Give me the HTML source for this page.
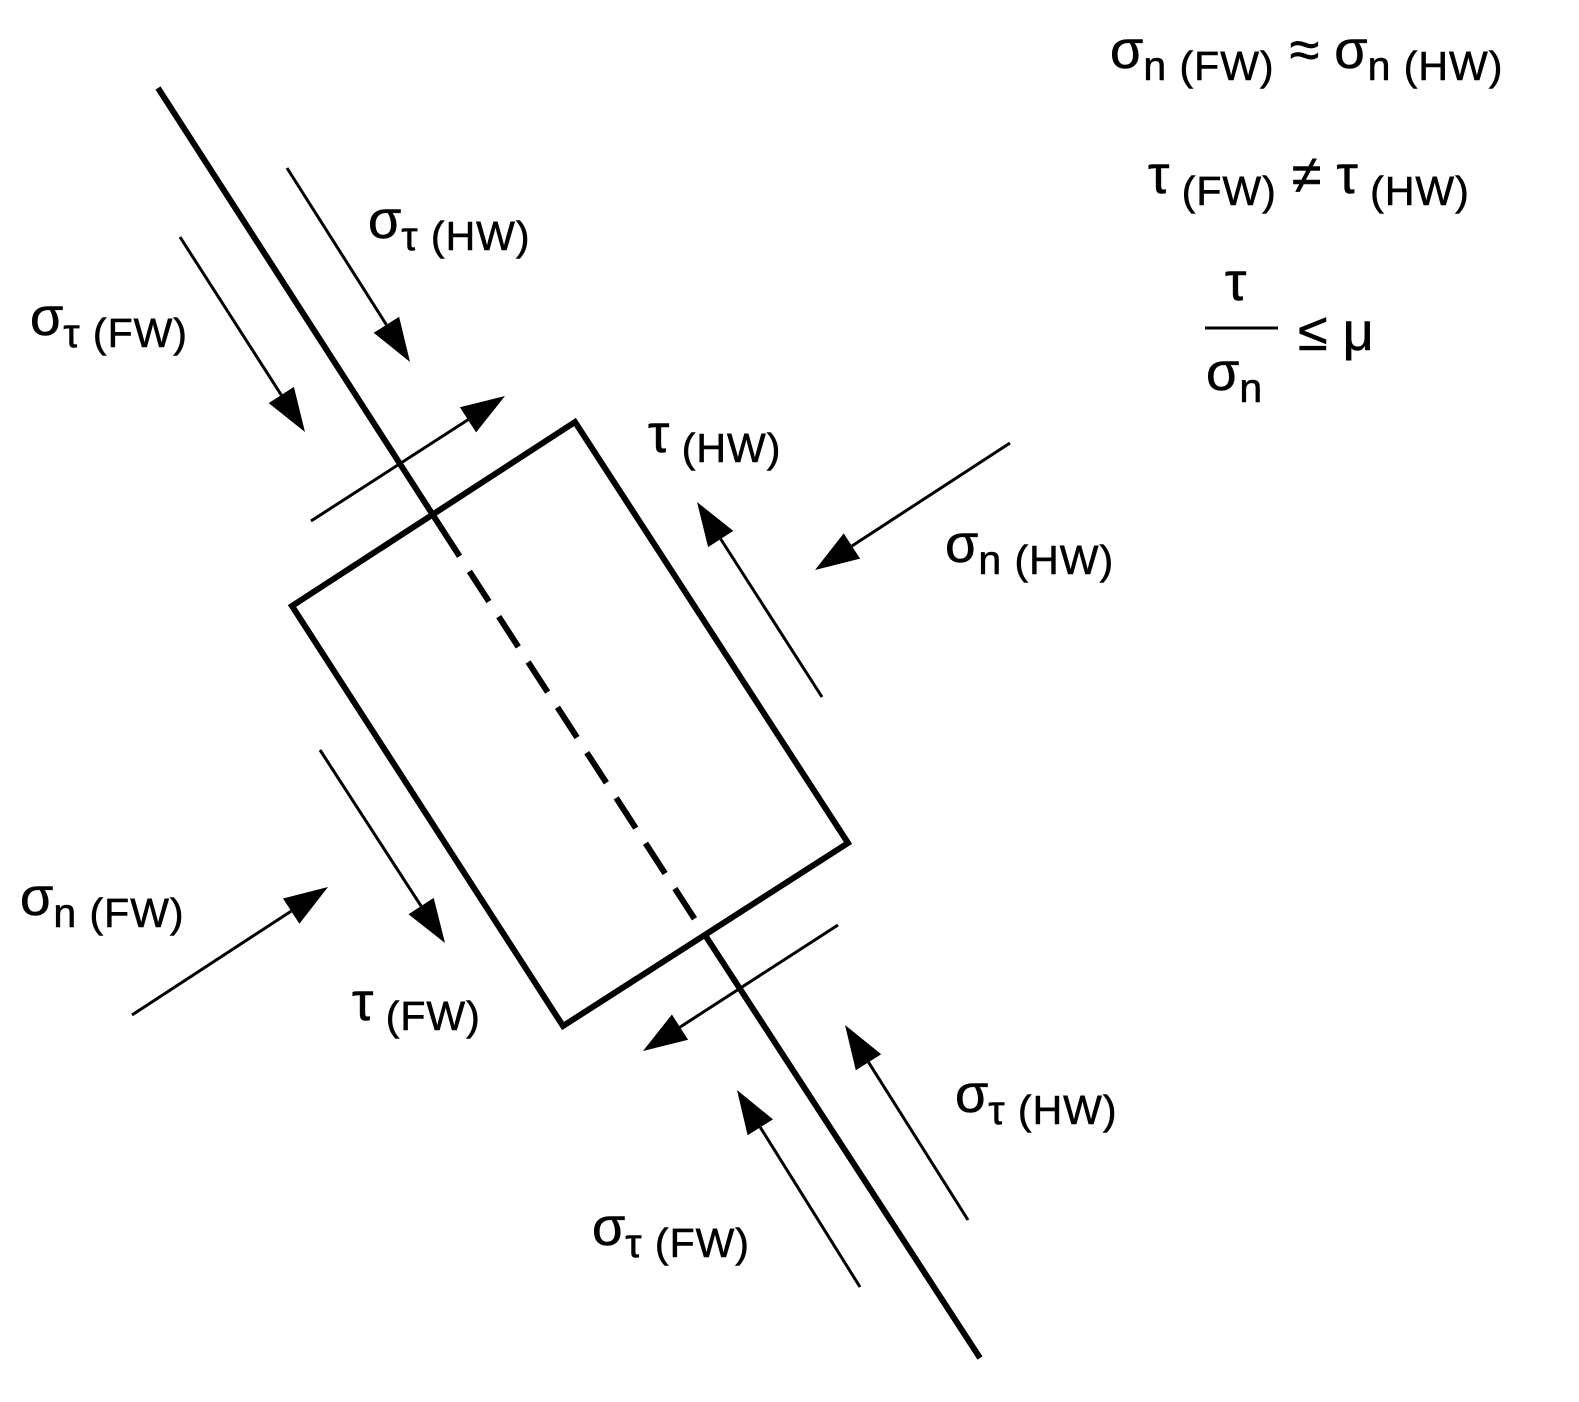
<!DOCTYPE html>
<html><head><meta charset="utf-8"><style>
html,body{margin:0;padding:0;background:#fff;overflow:hidden;width:1579px;height:1402px;}
svg{display:block;}
text{font-family:"Liberation Sans","DejaVu Sans",sans-serif;fill:#000;stroke:#000;stroke-width:0.6;}
.s{font-size:54px;}
.b{font-size:41px;letter-spacing:1px;}
</style></head><body>
<svg width="1579" height="1402" viewBox="0 0 1579 1402" xmlns="http://www.w3.org/2000/svg">
<line x1="158" y1="88" x2="440" y2="526" stroke="#000" stroke-width="6"/>
<line x1="440" y1="526" x2="705" y2="935" stroke="#000" stroke-width="6" stroke-dasharray="36,18"/>
<line x1="705" y1="935" x2="980" y2="1358" stroke="#000" stroke-width="6"/>
<polygon points="292,606 575,422 848,843 563,1026" fill="none" stroke="#000" stroke-width="6"/>
<g stroke="#000" stroke-width="3">
<line x1="287" y1="168" x2="386.4" y2="324.8"/>
<line x1="180" y1="237" x2="281.3" y2="395"/>
<line x1="311" y1="521" x2="468" y2="419.8"/>
<line x1="822" y1="697" x2="720.7" y2="539"/>
<line x1="1010" y1="443" x2="851.9" y2="546"/>
<line x1="320" y1="750" x2="421.1" y2="906.1"/>
<line x1="132" y1="1015" x2="291.2" y2="911.1"/>
<line x1="838" y1="925" x2="680" y2="1027.1"/>
<line x1="968" y1="1220" x2="868.5" y2="1062.2"/>
<line x1="860" y1="1287" x2="760.3" y2="1127.3"/>
</g>
<g fill="#000">
<polygon points="410,362 373.7,332.8 399.1,316.8"/>
<polygon points="305,432 268.7,403.1 293.9,386.9"/>
<polygon points="505,396 476.1,432.4 459.9,407.2"/>
<polygon points="697,502 733.3,530.9 708.1,547.1"/>
<polygon points="815,570 843.7,533.4 860.1,558.6"/>
<polygon points="445,943 408.5,914.3 433.7,897.9"/>
<polygon points="328,887 299.4,923.7 283,898.5"/>
<polygon points="643,1051 671.9,1014.5 688.1,1039.7"/>
<polygon points="845,1025 881.2,1054.2 855.8,1070.2"/>
<polygon points="737,1090 773,1119.4 747.6,1135.2"/>
</g>
<text x="368" y="238"><tspan class="s">σ</tspan><tspan class="b" dy="12">τ (HW)</tspan></text>
<text x="30" y="335"><tspan class="s">σ</tspan><tspan class="b" dy="12">τ (FW)</tspan></text>
<text x="648" y="452"><tspan class="s">τ</tspan><tspan class="b" dy="10"> (HW)</tspan></text>
<text x="945" y="562"><tspan class="s">σ</tspan><tspan class="b" dy="12">n (HW)</tspan></text>
<text x="20" y="915"><tspan class="s">σ</tspan><tspan class="b" dy="12">n (FW)</tspan></text>
<text x="352" y="1020"><tspan class="s">τ</tspan><tspan class="b" dy="10"> (FW)</tspan></text>
<text x="955" y="1112"><tspan class="s">σ</tspan><tspan class="b" dy="12">τ (HW)</tspan></text>
<text x="592" y="1245"><tspan class="s">σ</tspan><tspan class="b" dy="12">τ (FW)</tspan></text>
<text x="1110" y="68"><tspan class="s">σ</tspan><tspan class="b" dy="12">n (FW)</tspan><tspan class="s" dy="-12"> ≈ σ</tspan><tspan class="b" dy="12">n (HW)</tspan></text>
<text x="1148" y="193"><tspan class="s">τ</tspan><tspan class="b" dy="12"> (FW)</tspan><tspan class="s" dy="-12"> ≠ τ</tspan><tspan class="b" dy="12"> (HW)</tspan></text>
<text x="1225" y="300" class="s">τ</text>
<line x1="1205" y1="328" x2="1278" y2="328" stroke="#000" stroke-width="3"/>
<text x="1206" y="390"><tspan class="s">σ</tspan><tspan class="b" dy="12">n</tspan></text>
<text x="1298" y="350" class="s">≤ μ</text>
</svg>
</body></html>
